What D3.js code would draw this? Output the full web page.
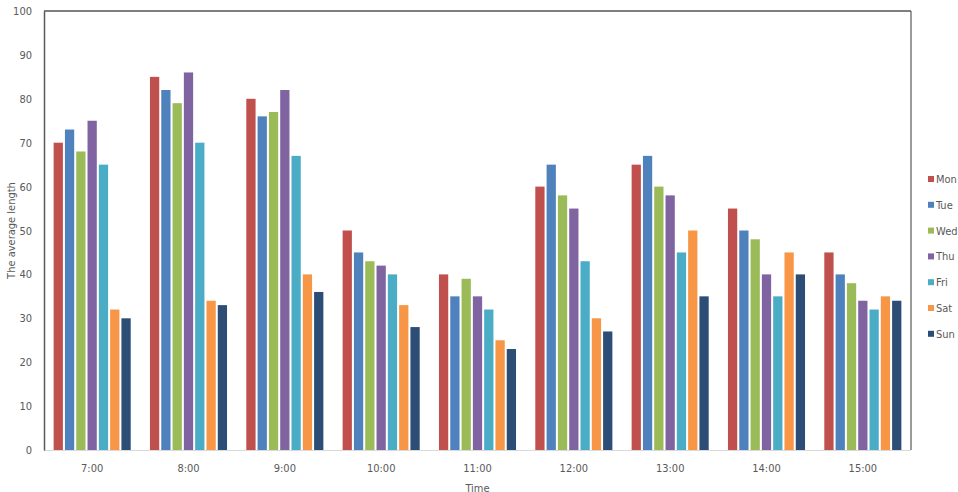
<!DOCTYPE html>
<html>
<head>
<meta charset="utf-8">
<script src="https://cdn.jsdelivr.net/npm/d3@7"></script>
<style>
  body { margin: 0; background: #fff; }
  text { font-family: "Liberation Sans Narrow", "DejaVu Sans Condensed", "Open Sans", sans-serif; fill: #595959; }
</style>
</head>
<body>
<div id="chart"></div>
<script>
var times = ["7:00", "8:00", "9:00", "10:00", "11:00", "12:00", "13:00", "14:00", "15:00"];
var days = ["Mon", "Tue", "Wed", "Thu", "Fri", "Sat", "Sun"];
var colors = ["#C0504D", "#4F81BD", "#9BBB59", "#8064A2", "#4BACC6", "#F79646", "#2C4D75"];

var mon = [70, 85, 80, 50, 40, 60, 65, 55, 45];
var tue = [73, 82, 76, 45, 35, 65, 67, 50, 40];
var wed = [68, 79, 77, 43, 39, 58, 60, 48, 38];
var thu = [75, 86, 82, 42, 35, 55, 58, 40, 34];
var fri = [65, 70, 67, 40, 32, 43, 45, 35, 32];
var sat = [32, 34, 40, 33, 25, 30, 50, 45, 35];
var sun = [30, 33, 36, 28, 23, 27, 35, 40, 34];
var yTicks = [0, 10, 20, 30, 40, 50, 60, 70, 80, 90, 100];

var series = [mon, tue, wed, thu, fri, sat, sun];

var width = 958, height = 492;
var plotL = 44, plotR = 911, plotT = 11, plotB = 450;

var svg = d3.select("#chart").append("svg")
    .attr("width", width)
    .attr("height", height);

var x = d3.scaleBand().domain(times).range([plotL, plotR]).paddingInner(0.2).paddingOuter(0.1);
var xi = d3.scaleBand().domain(d3.range(days.length)).range([0, x.bandwidth()]).paddingInner(0.18);
var y = d3.scaleLinear().domain([0, 100]).range([plotB, plotT]);

// frame
svg.append("line").attr("x1", plotL).attr("x2", plotR).attr("y1", plotT).attr("y2", plotT)
    .attr("stroke", "#7f7f7f").attr("stroke-width", 2);
svg.append("line").attr("x1", plotR).attr("x2", plotR).attr("y1", plotT).attr("y2", plotB)
    .attr("stroke", "#595959").attr("stroke-width", 1.2);
svg.append("line").attr("x1", plotL).attr("x2", plotR).attr("y1", plotB + 0.5).attr("y2", plotB + 0.5)
    .attr("stroke", "#d9d9d9").attr("stroke-width", 1);

// bars
var groups = svg.selectAll(".grp")
    .data(times).enter()
    .append("g")
    .attr("class", "grp")
    .attr("transform", function(d) { return "translate(" + x(d) + ",0)"; });

groups.selectAll("rect")
    .data(function(t, ti) { return series.map(function(s, si) { return { si: si, v: s[ti] }; }); })
    .enter()
    .append("rect")
    .attr("x", function(d) { return xi(d.si); })
    .attr("width", xi.bandwidth())
    .attr("y", function(d) { return y(d.v); })
    .attr("height", function(d) { return plotB - y(d.v); })
    .attr("fill", function(d) { return colors[d.si]; });

// y axis
var yAxis = svg.append("g")
    .attr("transform", "translate(" + plotL + ",0)")
    .call(d3.axisLeft(y).tickValues(yTicks).tickSize(0).tickPadding(12));
yAxis.select(".domain").attr("stroke", "#595959").attr("stroke-width", 1.5);
yAxis.selectAll("text").style("font-size", "11px").attr("fill", "#595959");

// x axis
var xAxis = svg.append("g")
    .attr("transform", "translate(0," + plotB + ")")
    .call(d3.axisBottom(x).tickSize(0).tickPadding(14));
xAxis.select(".domain").remove();
xAxis.selectAll("text").style("font-size", "11px").attr("fill", "#595959");

// axis titles
svg.append("text")
    .attr("transform", "translate(15," + ((plotT + plotB) / 2) + ") rotate(-90)")
    .attr("text-anchor", "middle")
    .style("font-size", "11px")
    .text("The average length");

svg.append("text")
    .attr("x", (plotL + plotR) / 2)
    .attr("y", 492)
    .attr("text-anchor", "middle")
    .style("font-size", "11px")
    .text("Time");

// legend
var legend = svg.selectAll(".leg")
    .data(days).enter()
    .append("g")
    .attr("class", "leg")
    .attr("transform", function(d, i) { return "translate(928," + (180 + i * 25.8) + ")"; });

legend.append("rect")
    .attr("x", 0).attr("y", -4)
    .attr("width", 6).attr("height", 6)
    .attr("fill", function(d, i) { return colors[i]; });

legend.append("text")
    .attr("x", 8).attr("y", 3)
    .style("font-size", "11px")
    .text(function(d) { return d; });
</script>
</body>
</html>
